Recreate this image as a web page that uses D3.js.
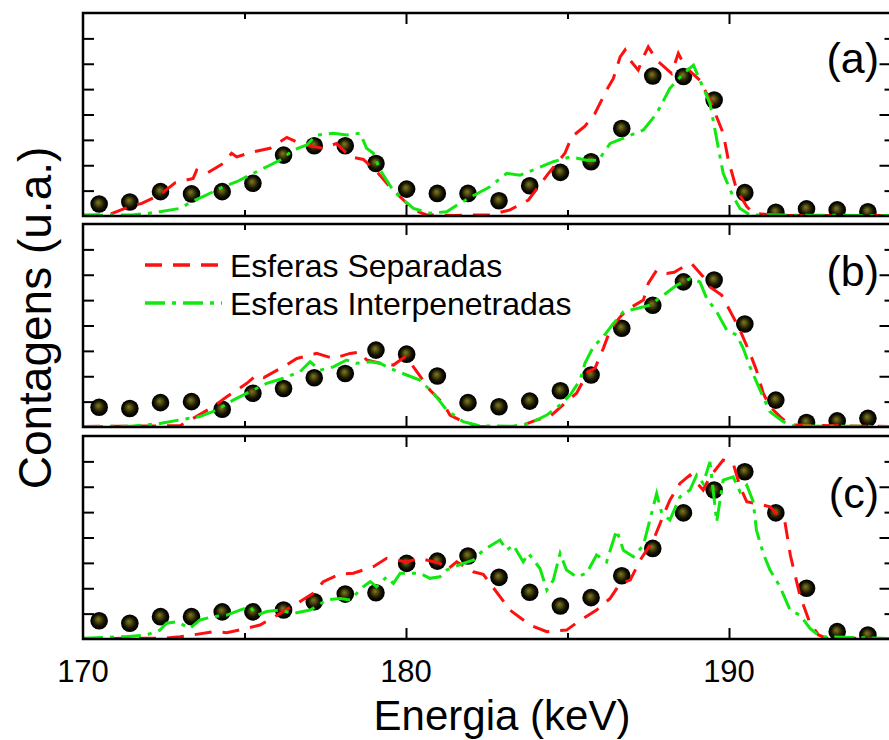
<!DOCTYPE html>
<html><head><meta charset="utf-8">
<script src="https://cdn.jsdelivr.net/npm/d3@7/dist/d3.min.js"></script>
<style>body{margin:0;background:#fff}svg{display:block;font-family:"Liberation Sans",Arial,sans-serif}</style>
</head><body><svg id="c" width="889" height="740"></svg>
<script>
// ---- data ----
const panelLabels = ["(a)", "(b)", "(c)"];
const xTickLabels = [170, 180, 190];
const legendLabels = ["Esferas Separadas", "Esferas Interpenetradas"];
const markerEnergy = [170.50,171.45,172.40,173.36,174.31,175.26,176.21,177.16,178.12,179.07,180.02,180.97,181.92,182.88,183.83,184.78,185.73,186.68,187.64,188.59,189.54,190.49,191.45,192.40,193.35,194.30];
const expA = [0.47,0.55,0.96,0.87,0.96,1.29,2.40,2.77,2.77,2.07,1.06,0.89,0.89,0.60,1.19,1.72,2.14,3.45,5.52,5.50,4.57,0.92,0.15,0.28,0.24,0.17];
const expB = [0.78,0.73,0.96,1.00,0.70,1.33,1.52,1.94,2.11,3.03,2.87,2.01,0.96,0.80,1.02,1.43,2.05,3.89,4.80,5.72,5.79,4.06,1.06,0.18,0.24,0.34];
const expC = [0.72,0.62,0.88,0.88,1.07,1.07,1.14,1.47,1.77,1.82,2.98,3.07,3.27,2.43,1.84,1.30,1.63,2.49,3.57,4.97,5.87,6.59,4.97,2.00,0.29,0.16];

const sepA_E = [170,170.8,171.3,171.82,172.38,172.85,173.41,173.52,173.83,174.34,174.60,174.76,175.27,175.79,176.31,176.72,177.1,177.44,177.85,178.27,178.68,179.14,179.50,179.92,180.23,180.64,181.5,182.0,182.60,183.22,183.79,184.41,184.92,185.13,185.54,185.85,186.21,186.42,186.63,186.78,186.9,187.19,187.35,187.50,187.76,188.22,188.43,188.64,189.10,189.41,189.82,189.98,190.24,190.55,190.75,191.5,195];
const sepA_V = [0.03,0.05,0.30,0.50,0.83,1.31,1.48,1.81,1.68,2.07,2.47,2.33,2.53,2.67,3.10,2.86,2.75,2.67,2.86,2.33,2.23,1.68,1.15,0.63,0.24,0.04,0.02,0.04,0.04,0.24,0.63,1.68,2.47,3.12,3.54,4.04,4.96,5.42,6.27,6.54,6.20,5.75,6.27,6.67,6.14,5.62,6.41,5.88,5.35,4.57,3.26,2.20,1.02,0.37,0.11,0.02,0.02];
const intA_E = [170,171.5,172.0,172.38,173.0,173.36,173.83,174.34,174.76,175.27,175.69,176.10,176.51,176.93,177.23,177.75,178.16,178.58,178.78,178.99,179.20,179.56,179.92,180.23,180.74,181.26,181.67,182.08,182.60,182.86,183.12,183.53,184.05,184.56,185.08,185.59,185.96,186.32,186.83,187.35,187.76,188.17,188.59,188.90,189.10,189.41,189.82,190.13,190.34,190.65,195];
const intA_V = [0.03,0.04,0.10,0.17,0.30,0.56,0.83,1.15,1.35,1.68,1.94,2.20,2.60,2.80,3.19,3.26,3.19,3.26,2.67,2.47,1.81,1.09,0.63,0.30,0.11,0.17,0.50,0.80,1.15,1.42,1.68,1.61,1.87,2.14,2.33,2.20,2.20,2.86,3.12,3.39,4.04,5.03,5.62,5.94,5.35,4.44,1.68,0.76,0.30,0.04,0.02];

const sepB_E = [170,173.0,173.41,174.03,174.45,175.07,175.38,175.6,176.20,176.62,177.23,177.75,178.27,178.58,178.78,179.20,179.61,179.97,180.23,180.74,181.15,181.36,181.77,182.29,183.5,184.05,184.46,184.97,185.28,185.64,185.85,186.11,186.32,186.63,186.83,187.35,187.50,187.76,188.07,188.3,188.59,188.84,189.20,189.41,189.77,190.13,190.34,190.65,190.85,191.06,191.27,191.58,191.89,195];
const sepB_V = [0.02,0.05,0.34,0.80,1.19,1.72,2.05,1.95,2.37,2.70,2.90,2.70,2.90,2.96,2.64,2.51,2.44,2.77,2.37,1.46,0.93,0.47,0.21,0.01,0.02,0.28,0.41,1.00,1.33,2.18,2.31,3.10,3.82,4.34,4.61,5.00,5.66,6.18,6.05,6.10,6.31,6.44,5.92,5.52,5.20,4.34,3.82,2.90,2.24,1.33,0.80,0.41,0.08,0.02];
const intB_E = [170,171.5,172.38,173.0,173.62,174.14,174.65,175.27,175.69,176.20,176.72,177.03,177.34,177.75,178.16,178.47,178.89,179.20,179.50,180.02,180.43,180.85,181.26,181.77,182.29,183.3,183.84,184.36,184.77,185.08,185.39,185.54,185.80,186.11,186.42,186.73,187.15,187.55,187.97,188.39,188.80,189.10,189.31,189.62,189.93,190.24,190.44,190.65,190.96,191.27,191.68,191.99,195];
const intB_V = [0.02,0.03,0.14,0.28,0.41,0.67,1.06,1.46,1.72,1.92,2.18,2.57,2.24,2.37,2.64,2.51,2.57,2.51,2.31,2.05,1.85,1.33,0.67,0.21,0.04,0.03,0.14,0.47,0.87,1.26,1.85,2.51,3.16,3.56,4.08,4.54,4.67,4.80,5.20,5.59,5.85,5.72,5.07,4.54,3.82,3.62,3.10,2.37,1.46,0.60,0.21,0.04,0.02];

const sepC_E = [170,172.5,173.0,173.4,174.03,174.45,175.07,175.48,176.20,176.62,177.13,177.44,177.96,178.37,178.99,179.40,180.02,180.43,181.05,181.26,181.57,182.08,182.39,182.91,183.22,183.84,184.36,184.97,185.33,185.90,186.32,186.63,186.94,187.25,187.66,187.97,188.17,188.48,188.79,189.20,189.41,189.82,190.13,190.34,190.55,191.0,191.27,191.73,191.9,192.2,192.5,192.77,193.02,195];
const sepC_V = [0.02,0.03,0.09,0.16,0.29,0.25,0.42,0.55,1.08,1.40,1.80,2.26,2.56,2.59,2.85,3.18,3.04,3.18,2.98,2.72,3.04,2.65,2.55,1.67,1.14,0.55,0.29,0.35,0.68,1.14,1.60,2.19,2.32,3.11,3.90,4.88,5.47,6.13,6.46,5.87,6.39,7.05,6.92,6.00,5.41,5.30,5.21,4.62,3.30,1.70,0.65,0.16,0.03,0.02];
const intC_E = [170,171.3,171.97,172.38,172.59,172.90,173.31,173.62,174.03,174.45,174.86,175.17,175.38,175.69,176.10,176.51,177.03,177.54,177.96,178.27,178.68,178.89,179.09,179.40,179.61,179.82,180.43,180.74,181.05,181.26,181.77,182.08,182.39,182.91,183.12,183.32,183.63,183.79,184.15,184.36,184.56,184.77,184.97,185.28,185.59,185.90,186.21,186.52,186.73,187.04,187.35,187.76,187.92,188.17,188.48,188.79,189.0,189.20,189.41,189.62,189.82,190.13,190.34,190.55,190.75,190.85,191.06,191.27,191.58,191.89,192.20,192.51,192.82,195];
const intC_V = [0.03,0.09,0.16,0.35,0.62,0.68,0.42,0.75,0.88,0.94,1.14,1.27,0.94,1.08,1.14,1.01,1.14,1.54,1.60,1.54,2.06,2.26,2.06,2.45,2.19,2.59,2.59,2.39,2.45,2.72,2.98,3.11,3.50,3.90,3.50,3.70,3.04,3.37,2.78,1.93,2.32,3.37,2.72,2.45,2.59,3.31,3.04,4.29,3.50,3.24,3.70,5.73,4.95,4.69,5.60,5.87,6.46,6.13,6.98,4.62,6.26,6.39,5.80,6.06,5.41,4.29,3.37,2.72,2.06,1.14,0.94,0.42,0.09,0.02];

// ---- layout ----
const svg = d3.select("#c");
const font = '"Liberation Sans",Arial,sans-serif';
const x = d3.scaleLinear().domain([170, 195]).range([83, 890.5]);
const panelTops = [13, 224, 436];
const panelH = 203;
const labelBaselines = [73, 286, 508];

const defs = svg.append("defs");
const grad = defs.append("radialGradient").attr("id", "ball").attr("cx", "50%").attr("cy", "50%").attr("r", "50%").attr("fx", "44%").attr("fy", "40%");
grad.append("stop").attr("offset", "0%").attr("stop-color", "#7f7828");
grad.append("stop").attr("offset", "25%").attr("stop-color", "#5a5512");
grad.append("stop").attr("offset", "60%").attr("stop-color", "#1c1a04");
grad.append("stop").attr("offset", "85%").attr("stop-color", "#040300");
grad.append("stop").attr("offset", "100%").attr("stop-color", "#000");

const panels = [
  {exp: expA, sep: [sepA_E, sepA_V], int: [intA_E, intA_V]},
  {exp: expB, sep: [sepB_E, sepB_V], int: [intB_E, intB_V]},
  {exp: expC, sep: [sepC_E, sepC_V], int: [intC_E, intC_V]}
];

const RED = "#ff1010", GREEN = "#10e810";
const sepDash = "17,11", intDash = "20,7,4,7";

panels.forEach((p, i) => {
  const top = panelTops[i];
  const y = d3.scaleLinear().domain([0, 8]).range([top + panelH, top]);
  const g = svg.append("g");
  defs.append("clipPath").attr("id", "clip" + i).append("rect")
    .attr("x", x(170)).attr("y", top).attr("width", x(195) - x(170)).attr("height", panelH);
  const plot = g.append("g").attr("clip-path", `url(#clip${i})`);

  // markers
  plot.selectAll("circle").data(p.exp).join("circle")
    .attr("cx", (d, k) => x(markerEnergy[k])).attr("cy", d => y(d)).attr("r", 8.8)
    .attr("fill", "url(#ball)");

  const line = d3.line().x(d => x(d[0])).y(d => y(d[1]));
  plot.append("path").datum(d3.zip(p.sep[0], p.sep[1])).attr("d", line)
    .attr("fill", "none").attr("stroke", RED).attr("stroke-width", 3).attr("stroke-dasharray", sepDash);
  plot.append("path").datum(d3.zip(p.int[0], p.int[1])).attr("d", line)
    .attr("fill", "none").attr("stroke", GREEN).attr("stroke-width", 3).attr("stroke-dasharray", intDash);

  // axes (ticks inward)
  g.append("g").attr("transform", `translate(0,${top + panelH})`)
    .call(d3.axisTop(x).tickValues([175, 185]).tickSize(6).tickFormat(""))
    .call(a => a.select(".domain").remove());
  g.append("g").attr("transform", `translate(0,${top + panelH})`)
    .call(d3.axisTop(x).tickValues([180, 190]).tickSize(11).tickFormat(""))
    .call(a => a.select(".domain").remove());
  g.append("g").attr("transform", `translate(0,${top})`)
    .call(d3.axisBottom(x).tickValues([175, 185]).tickSize(6).tickFormat(""))
    .call(a => a.select(".domain").remove());
  g.append("g").attr("transform", `translate(0,${top})`)
    .call(d3.axisBottom(x).tickValues([180, 190]).tickSize(11).tickFormat(""))
    .call(a => a.select(".domain").remove());
  g.append("g").attr("transform", `translate(${x(170)},0)`)
    .call(d3.axisRight(y).tickValues([1,2,3,4,5,6,7]).tickSize(11).tickFormat(""))
    .call(a => a.select(".domain").remove());
  g.append("g").attr("transform", `translate(${x(195)},0)`)
    .call(d3.axisLeft(y).tickValues([2,4,6]).tickSize(11).tickFormat(""))
    .call(a => a.select(".domain").remove());
  g.append("g").attr("transform", `translate(${x(195)},0)`)
    .call(d3.axisLeft(y).tickValues([1,3,5,7]).tickSize(6).tickFormat(""))
    .call(a => a.select(".domain").remove());
  g.selectAll(".tick line").attr("stroke", "#000").attr("stroke-width", 2);

  g.append("rect").attr("x", x(170)).attr("y", top).attr("width", x(195) - x(170)).attr("height", panelH)
    .attr("fill", "none").attr("stroke", "#000").attr("stroke-width", 2.5);

  g.append("text").attr("x", 879).attr("y", labelBaselines[i]).attr("text-anchor", "end")
    .attr("font-size", 43).attr("font-family", font).text(panelLabels[i]);

  if (i === 2) {
    g.selectAll(".xl").data(xTickLabels).join("text").attr("class", "xl")
      .attr("x", d => x(d)).attr("y", 682).attr("text-anchor", "middle")
      .attr("font-size", 31).attr("font-family", font).text(d => d);
  }
});

// legend
const leg = svg.append("g");
[[RED, sepDash, 265], [GREEN, intDash, 303]].forEach((s, k) => {
  leg.append("line").attr("x1", 145).attr("x2", 222).attr("y1", s[2]).attr("y2", s[2])
    .attr("stroke", s[0]).attr("stroke-width", 3.5).attr("stroke-dasharray", s[1]);
  leg.append("text").attr("x", 230).attr("y", s[2] + 12).attr("font-size", 32)
    .attr("font-family", font).text(legendLabels[k]);
});

// axis titles
svg.append("text").attr("x", 502).attr("y", 730).attr("text-anchor", "middle")
  .attr("font-size", 42).attr("font-family", font).text("Energia (keV)");
svg.append("text").attr("transform", "translate(51,318) rotate(-90)").attr("text-anchor", "middle")
  .attr("font-size", 46).attr("font-family", font).text("Contagens (u.a.)");
</script></body></html>
